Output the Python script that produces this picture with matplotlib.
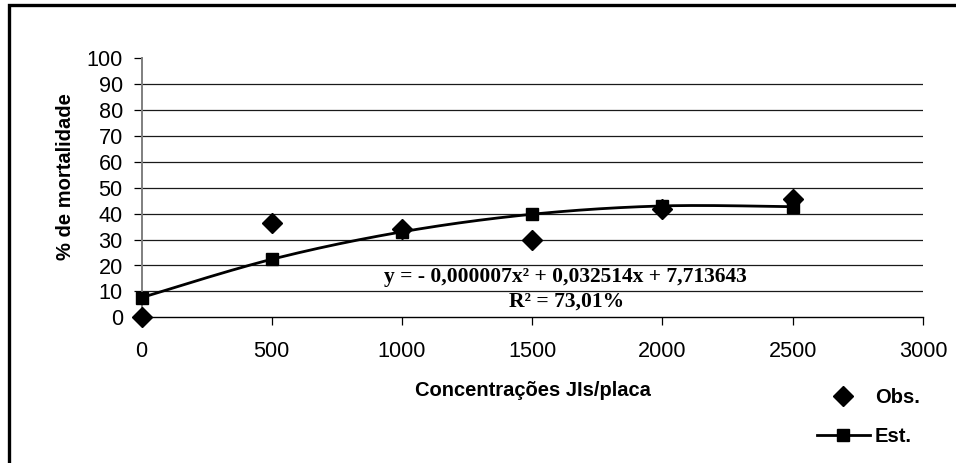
import numpy as np
import matplotlib
matplotlib.use("Agg")
import matplotlib.pyplot as plt
from matplotlib.patches import Rectangle
from matplotlib.lines import Line2D

# ---- data ----
conc = [0, 500, 1000, 1500, 2000, 2500]
obs = [0.0, 36.3, 34.0, 29.8, 41.7, 45.6]
est = [7.6, 22.4, 33.0, 39.8, 43.0, 42.7]
xticks = [0, 500, 1000, 1500, 2000, 2500, 3000]
yticks = list(range(0, 101, 10))
eq_text = "y = - 0,000007x² + 0,032514x + 7,713643"
r2_text = "R² = 73,01%"
xlabel = "Concentrações JIs/placa"
ylabel = "% de mortalidade"


def smooth(x, y, n=40):
    """Catmull-Rom spline through the points (Excel-like smoothed line)."""
    x = np.asarray(x, float)
    y = np.asarray(y, float)
    P = np.column_stack([x, y])
    P = np.vstack([P[0], P, P[-1]])
    out = []
    for i in range(1, len(P) - 2):
        p0, p1, p2, p3 = P[i - 1], P[i], P[i + 1], P[i + 2]
        t = np.linspace(0, 1, n)[:, None]
        c1 = p1 + (p2 - p0) / 6.0
        c2 = p2 - (p3 - p1) / 6.0
        seg = ((1 - t) ** 3) * p1 + 3 * ((1 - t) ** 2) * t * c1 + 3 * (1 - t) * t ** 2 * c2 + t ** 3 * p2
        out.append(seg if i == 1 else seg[1:])
    S = np.vstack(out)
    return S[:, 0], S[:, 1]


SANS = "Liberation Sans"
SERIF = "Liberation Serif"
plt.rcParams["font.family"] = [SANS, "DejaVu Sans"]

fig = plt.figure(figsize=(9.56, 4.63), dpi=100)
W, H = 956, 463

# outer frame (cut off at right & bottom as in reference)
fig.patches.append(Rectangle((9 / W, -0.2), 1.5, 1 - 5 / H + 0.2, transform=fig.transFigure,
                             fill=False, edgecolor="black", lw=2.4, zorder=0))

ax = fig.add_axes([141.5 / W, 1 - 317.3 / H, (923 - 141.5) / W, (317.3 - 58.3) / H])
ax.set_xlim(0, 3000)
ax.set_ylim(0, 100)
ax.set_xticks(xticks)
ax.set_yticks(yticks)
ax.set_xticklabels([str(v) for v in xticks])
ax.set_yticklabels([str(v) for v in yticks])
ax.tick_params(axis="both", labelsize=15.6, direction="out", length=6, width=0.9, color="black")
ax.tick_params(axis="x", pad=11)
ax.tick_params(axis="y", pad=7.5)

for s in ("top", "right"):
    ax.spines[s].set_visible(False)
ax.spines["left"].set_color("#7f7f7f")
ax.spines["left"].set_linewidth(1.4)
ax.spines["bottom"].set_color("black")
ax.spines["bottom"].set_linewidth(1.0)

ax.yaxis.grid(True, color="#1a1a1a", lw=0.9)
ax.get_ygridlines()[-1].set_visible(False)
ax.get_ygridlines()[0].set_visible(False)
ax.set_axisbelow(True)

xs, ys = smooth(conc, est)
ax.plot(xs, ys, color="black", lw=2.0, solid_capstyle="butt", zorder=3, clip_on=False)
ax.plot(conc, est, linestyle="none", marker="s", ms=8, color="black", zorder=4, clip_on=False)
ax.plot(conc, obs, linestyle="none", marker="D", ms=9.8, color="black", zorder=5, clip_on=False)

ax.text(1628, 15.6, eq_text, ha="center", va="center", fontsize=15.5,
        fontweight="bold", family=[SERIF, "DejaVu Serif"])
ax.text(1631, 5.9, r2_text, ha="center", va="center", fontsize=15.5,
        fontweight="bold", family=[SERIF, "DejaVu Serif"])

ax.set_xlabel(xlabel, fontsize=14.5, fontweight="bold")
ax.xaxis.set_label_coords((533 - 141.5) / 781.5, (317.3 - 391) / 259)
ax.xaxis.label.set_va("center")
ax.set_ylabel(ylabel, fontsize=14.5, fontweight="bold")
ax.yaxis.set_label_coords((65 - 141.5) / 781.5, (317.3 - 177) / 259)
ax.yaxis.label.set_va("center")
ax.yaxis.label.set_ha("center")

h_obs = Line2D([], [], linestyle="none", marker="D", ms=9.8, color="black")
h_est = Line2D([], [], color="black", lw=2.0, marker="s", ms=8)
leg = fig.legend([h_obs, h_est], ["Obs.", "Est."], loc="upper left",
                 bbox_to_anchor=(817 / W, 1 - 388 / H), frameon=False,
                 prop={"family": SANS, "weight": "bold", "size": 14.5},
                 handlelength=2.62, handletextpad=0.25, labelspacing=1.0,
                 borderpad=0, borderaxespad=0, numpoints=1)

fig.savefig("out.png", dpi=100)
